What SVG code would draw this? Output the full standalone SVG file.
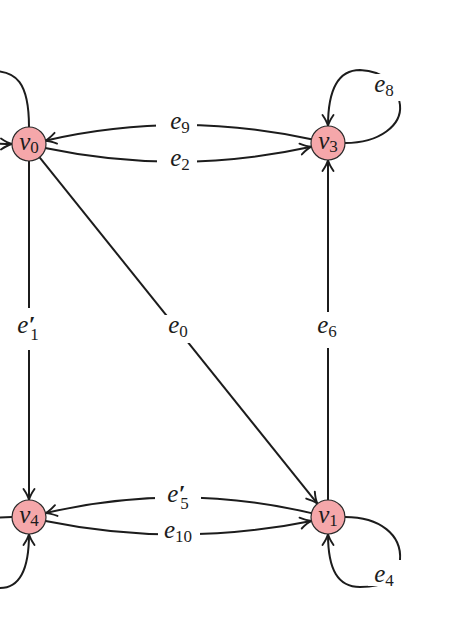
<svg xmlns="http://www.w3.org/2000/svg" width="474" height="643" viewBox="0 0 474 643">
<style>
.edge{fill:none;stroke:#1c1c1c;stroke-width:2}
.node circle{fill:#f5a7aa;stroke:#2a2a2a;stroke-width:1.2}
.lbl{font-family:"Liberation Serif",serif;font-style:italic;font-size:25px;fill:#1c1c1c}
.sub{font-style:normal;font-size:17px}
.pr{font-size:24px;font-weight:bold}
.bg{fill:#ffffff}
</style>
<defs>
<marker id="arr" markerUnits="userSpaceOnUse" markerWidth="14" markerHeight="14" viewBox="-12 -7 14 14" refX="0" refY="0" orient="auto" overflow="visible">
<path d="M-11,-5.5 C-6.5,-2.4 -2.5,-0.6 0,0 C-2.5,0.6 -6.5,2.4 -11,5.5" fill="none" stroke="#1c1c1c" stroke-width="1.9" stroke-linecap="round"/>
</marker>
</defs>
<rect width="474" height="643" fill="#ffffff"/>
<g id="connectors">
<path class="edge" d="M29,127 C29,82 16,71 -8,71 C-40,71 -50,100 -50,118 C-50,138 -30,144 12,144" marker-end="url(#arr)"/>
<path class="edge" d="M311.4,139.3 Q178,110 45.1,140.7" marker-end="url(#arr)"/>
<path class="edge" d="M45.1,148 Q178,176 311.4,146.7" marker-end="url(#arr)"/>
<path class="edge" d="M345,143 C380,143 402,125 400,105 C398,85 385,71 360,70 C338,70 328,90 328,126" marker-end="url(#arr)"/>
<path class="edge" d="M29,161 L29,500" marker-end="url(#arr)"/>
<path class="edge" d="M39.6,157.3 L317.4,503.7" marker-end="url(#arr)"/>
<path class="edge" d="M328,500 L328,160" marker-end="url(#arr)"/>
<path class="edge" d="M311.4,513.1 Q178,482 45.5,513.1" marker-end="url(#arr)"/>
<path class="edge" d="M45.5,520.9 Q178,548 311.4,520.9" marker-end="url(#arr)"/>
<path class="edge" d="M345,517 C380,517 402,535 400,560 C398,580 385,587 360,587 C338,587 328,570 328,534" marker-end="url(#arr)"/>
<path class="edge" d="M12,517 C-20,517 -50,530 -50,556 C-50,582 -20,588 0,588 C20,588 29,570 29,534" marker-end="url(#arr)"/>
<rect class="bg" x="156" y="112" width="41" height="22"/>
<rect class="bg" x="157" y="151" width="40" height="22"/>
<rect class="bg" x="155" y="484" width="46" height="24"/>
<rect class="bg" x="158" y="523" width="42" height="22"/>
<rect class="bg" x="14" y="308" width="28" height="42"/>
<rect class="bg" x="163" y="315" width="29" height="28"/>
<rect class="bg" x="314" y="312" width="28" height="36"/>
<rect class="bg" x="372" y="74" width="33" height="27"/>
<rect class="bg" x="368" y="560" width="36" height="26"/>
<text class="lbl" x="180" y="129" text-anchor="middle">e<tspan class="sub" dy="4">9</tspan></text>
<text class="lbl" x="180" y="166" text-anchor="middle">e<tspan class="sub" dy="4">2</tspan></text>
<text class="lbl" x="178" y="502" text-anchor="middle">e<tspan class="pr" dy="-1">′</tspan><tspan class="sub" dx="-5" dy="8">5</tspan></text>
<text class="lbl" x="178" y="538" text-anchor="middle">e<tspan class="sub" dy="4">10</tspan></text>
<text class="lbl" x="28" y="333" text-anchor="middle">e<tspan class="pr" dy="-1">′</tspan><tspan class="sub" dx="-5" dy="8">1</tspan></text>
<text class="lbl" x="178" y="333" text-anchor="middle">e<tspan class="sub" dy="4">0</tspan></text>
<text class="lbl" x="327" y="333" text-anchor="middle">e<tspan class="sub" dy="4">6</tspan></text>
<text class="lbl" x="384" y="92" text-anchor="middle">e<tspan class="sub" dy="4">8</tspan></text>
<text class="lbl" x="384" y="582" text-anchor="middle">e<tspan class="sub" dy="4">4</tspan></text>
</g>
<g id="v0" class="node"><circle cx="29" cy="144" r="17"/><text class="lbl" x="29" y="150" text-anchor="middle" font-size="26">v<tspan class="sub" dy="3">0</tspan></text></g>
<g id="v3" class="node"><circle cx="328" cy="143" r="17"/><text class="lbl" x="328" y="149" text-anchor="middle" font-size="26">v<tspan class="sub" dy="3">3</tspan></text></g>
<g id="v4" class="node"><circle cx="29" cy="517" r="17"/><text class="lbl" x="29" y="523" text-anchor="middle" font-size="26">v<tspan class="sub" dy="3">4</tspan></text></g>
<g id="v1" class="node"><circle cx="328" cy="517" r="17"/><text class="lbl" x="328" y="523" text-anchor="middle" font-size="26">v<tspan class="sub" dy="3">1</tspan></text></g>
</svg>
